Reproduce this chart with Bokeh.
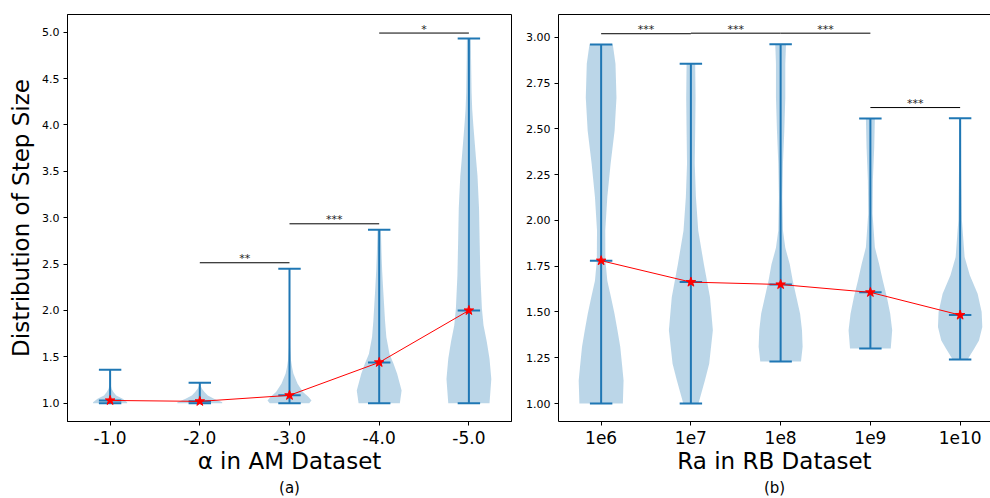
from bokeh.plotting import figure
from bokeh.layouts import row
from bokeh.models import Range1d, FixedTicker, LinearAxis, Title, PrintfTickFormatter
from bokeh.core.properties import value
from bokeh.embed import file_html
from bokeh.resources import INLINE

FONT = "DejaVu Sans"
BLUE = "#1f77b4"

# ---------------- Panel (a): alpha in AM dataset ----------------
am_labels = ["-1.0", "-2.0", "-3.0", "-4.0", "-5.0"]
am_min = [1.0, 1.0, 1.0, 1.0, 1.0]
am_max = [1.36, 1.22, 2.45, 2.87, 4.93]
am_median = [1.03, 1.02, 1.085, 1.44, 2.0]

am1_y = [1.0, 1.01, 1.047, 1.083, 1.12, 1.155, 1.2, 1.28, 1.36]
am1_w = [0.19, 0.19, 0.14, 0.068, 0.037, 0.017, 0.006, 0.002, 0.0]
am2_y = [1.0, 1.01, 1.047, 1.083, 1.12, 1.155, 1.19, 1.22]
am2_w = [0.25, 0.25, 0.158, 0.089, 0.052, 0.024, 0.008, 0.0]
am3_y = [1.0, 1.03, 1.07, 1.12, 1.21, 1.32, 1.39, 1.46, 1.6, 1.9, 2.45]
am3_w = [0.22, 0.245, 0.21, 0.15, 0.09, 0.043, 0.028, 0.017, 0.008, 0.003, 0.001]
am4_y = [1.0, 1.137, 1.317, 1.425, 1.53, 1.71, 1.89, 2.07, 2.25, 2.43, 2.61, 2.87]
am4_w = [0.23, 0.25, 0.2, 0.16, 0.115, 0.08, 0.065, 0.054, 0.043, 0.033, 0.026, 0.019]
am5_y = [1.0, 1.26, 1.48, 1.66, 1.84, 2.02, 2.38, 2.74, 3.10, 3.45, 3.63, 3.81, 3.99,
         4.17, 4.35, 4.71, 4.93]
am5_w = [0.23, 0.25, 0.23, 0.2, 0.163, 0.145, 0.128, 0.12, 0.113, 0.096, 0.08, 0.065,
         0.05, 0.037, 0.03, 0.024, 0.022]

am_sig_x0 = [2, 3, 4]
am_sig_x1 = [3, 4, 5]
am_sig_y = [2.514, 2.934, 4.99]
am_sig_text = ["**", "***", "*"]

# ---------------- Panel (b): Ra in RB dataset ----------------
rb_labels = ["1e6", "1e7", "1e8", "1e9", "1e10"]
rb_min = [1.0, 1.0, 1.23, 1.30, 1.24]
rb_max = [2.96, 2.855, 2.962, 2.556, 2.558]
rb_median = [1.78, 1.663, 1.65, 1.607, 1.483]

rb1_y = [1.0, 1.126, 1.217, 1.31, 1.40, 1.49, 1.58, 1.67, 1.78, 1.945, 2.127, 2.31, 2.49,
         2.67, 2.855, 2.96]
rb1_w = [0.242, 0.25, 0.232, 0.213, 0.182, 0.149, 0.11, 0.069, 0.048, 0.046, 0.069, 0.106,
         0.15, 0.171, 0.16, 0.13]
rb2_y = [1.0, 1.035, 1.126, 1.217, 1.40, 1.58, 1.76, 1.945, 2.127, 2.31, 2.49, 2.67, 2.855]
rb2_w = [0.085, 0.104, 0.156, 0.204, 0.245, 0.213, 0.145, 0.082, 0.056, 0.043, 0.048,
         0.052, 0.048]
rb3_y = [1.23, 1.31, 1.40, 1.49, 1.58, 1.67, 1.76, 1.85, 1.945, 2.127, 2.31, 2.49, 2.67,
         2.855, 2.962]
rb3_w = [0.227, 0.245, 0.238, 0.217, 0.176, 0.135, 0.102, 0.052, 0.026, 0.019, 0.026,
         0.041, 0.052, 0.052, 0.06]
rb4_y = [1.30, 1.40, 1.49, 1.58, 1.67, 1.76, 1.853, 2.036, 2.22, 2.40, 2.556]
rb4_w = [0.227, 0.243, 0.221, 0.184, 0.139, 0.098, 0.05, 0.024, 0.028, 0.043, 0.05]
rb5_y = [1.24, 1.254, 1.30, 1.344, 1.418, 1.50, 1.60, 1.70, 1.80, 2.0, 2.3, 2.558]
rb5_w = [0.085, 0.10, 0.158, 0.21, 0.247, 0.24, 0.195, 0.108, 0.05, 0.02, 0.012, 0.01]

rb_sig_x0 = [1, 2, 3, 4]
rb_sig_x1 = [2, 3, 4, 5]
rb_sig_y = [3.019, 3.022, 3.022, 2.616]
rb_sig_text = ["***", "***", "***", "***"]

CAP = 0.125


def style_axes(xax, yax, yfmt):
    for ax in (xax, yax):
        ax.axis_line_color = "black"
        ax.major_tick_line_color = "black"
        ax.major_tick_out = 4
        ax.major_tick_in = 0
        ax.minor_tick_line_color = None
        ax.major_label_text_font = FONT
        ax.major_label_text_color = "black"
        ax.axis_label_text_font = FONT
        ax.axis_label_text_font_style = "normal"
        ax.axis_label_text_color = "black"
    xax.major_label_text_font_size = "17px"
    yax.major_label_text_font_size = "11px"
    xax.axis_label_text_font_size = "23px"
    yax.axis_label_text_font_size = "23px"
    xax.major_label_standoff = 5
    xax.axis_label_standoff = 1
    yax.major_label_standoff = 4
    yax.formatter = PrintfTickFormatter(format=yfmt)


def draw_panel(p, xax, profiles, mins, maxs, meds, labels, sx0, sx1, sy, stext):
    pos = list(range(1, len(labels) + 1))
    xs, ys = [], []
    for c, (py, pw) in zip(pos, profiles):
        xs.append([c + w for w in pw] + [c - w for w in reversed(pw)])
        ys.append(list(py) + list(reversed(py)))
    p.patches(xs, ys, fill_color=BLUE, fill_alpha=0.3, line_color=None)
    p.segment(x0=pos, y0=mins, x1=pos, y1=maxs, line_color=BLUE, line_width=2)
    for vals in (mins, maxs, meds):
        p.segment(x0=[c - CAP for c in pos], y0=vals, x1=[c + CAP for c in pos], y1=vals,
                  line_color=BLUE, line_width=2)
    p.line(pos, meds, line_color="#ff0000", line_width=1)
    p.scatter(pos, meds, marker="star", size=10, fill_color="#ff0000", line_color="#ff0000")
    p.segment(x0=sx0, y0=sy, x1=sx1, y1=sy, line_color="black", line_width=1)
    p.text(x=[(a + b) / 2 for a, b in zip(sx0, sx1)], y=sy, text=stext,
           text_font=value(FONT), text_font_size=value("11px"), text_color="#222222",
           text_align="center", text_baseline="alphabetic", y_offset=-4)
    xax.ticker = FixedTicker(ticks=pos)
    xax.major_label_overrides = {c: lab for c, lab in zip(pos, labels)}
    p.xgrid.visible = False
    p.ygrid.visible = False


def make_fig(fw, xr, yr, mbl, mbr):
    p = figure(frame_width=fw, frame_height=407, x_range=xr, y_range=yr,
               output_backend="svg", toolbar_location=None,
               min_border_left=mbl, min_border_right=mbr, min_border_top=14,
               min_border_bottom=77, background_fill_color="white",
               border_fill_color="white", x_axis_location="below")
    return p


# ----- panel (a)
p1 = make_fig(444, Range1d(0.525, 5.475), Range1d(0.803, 5.19), 67, 9)
p1.outline_line_color = "black"
p1.outline_line_alpha = 1.0
x1ax = p1.below[0]
y1ax = p1.left[0]
style_axes(x1ax, y1ax, "%.1f")
y1ax.ticker = FixedTicker(ticks=[1.0, 1.5, 2.0, 2.5, 3.0, 3.5, 4.0, 4.5, 5.0])
x1ax.axis_label = "α in AM Dataset"
y1ax.axis_label = "Distribution of Step Size"
draw_panel(p1, x1ax,
           [(am1_y, am1_w), (am2_y, am2_w), (am3_y, am3_w), (am4_y, am4_w), (am5_y, am5_w)],
           am_min, am_max, am_median, am_labels, am_sig_x0, am_sig_x1, am_sig_y, am_sig_text)
p1.add_layout(Title(text="(a)", align="center", text_font=FONT, text_font_size="15px",
                    text_font_style="normal", text_color="black", standoff=0), "below")

# ----- panel (b)
p2 = make_fig(432, Range1d(0.525, 0.525 + 432 / 89.75), Range1d(0.902, 3.124), 38, 0)
p2.outline_line_color = None
x2ax = p2.below[0]
y2ax = p2.left[0]
style_axes(x2ax, y2ax, "%.2f")
y2ax.ticker = FixedTicker(ticks=[1.0, 1.25, 1.5, 1.75, 2.0, 2.25, 2.5, 2.75, 3.0])
x2ax.axis_label = "Ra in RB Dataset"
draw_panel(p2, x2ax,
           [(rb1_y, rb1_w), (rb2_y, rb2_w), (rb3_y, rb3_w), (rb4_y, rb4_w), (rb5_y, rb5_w)],
           rb_min, rb_max, rb_median, rb_labels, rb_sig_x0, rb_sig_x1, rb_sig_y, rb_sig_text)
top_axis = LinearAxis(ticker=FixedTicker(ticks=[]), axis_line_color="black",
                      major_tick_line_color=None, minor_tick_line_color=None,
                      major_label_standoff=0, major_tick_out=0, major_tick_in=0)
p2.add_layout(top_axis, "above")
p2.add_layout(Title(text="(b)", align="center", text_font=FONT, text_font_size="15px",
                    text_font_style="normal", text_color="black", standoff=0), "below")

layout = row(p1, p2)
open("out.html", "w").write(file_html(layout, INLINE))
